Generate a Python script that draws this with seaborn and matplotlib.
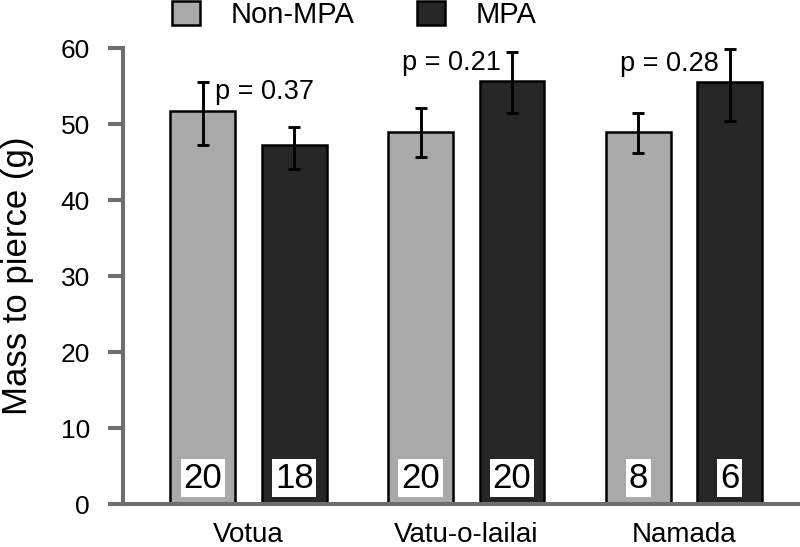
"""
Mass needed to pierce, Non-MPA vs MPA sites (bar chart with error bars)
"""

import pandas as pd
import matplotlib
matplotlib.use("Agg")
import matplotlib.pyplot as plt
from matplotlib.patches import Patch
import seaborn as sns

# Data
sites = ["Votua", "Vatu-o-lailai", "Namada"]
groups = ["Non-MPA", "MPA"]
nonmpa_mean = [51.7, 48.9, 48.9]
nonmpa_lo = [47.2, 45.7, 46.2]
nonmpa_hi = [55.5, 52.1, 51.4]
mpa_mean = [47.2, 55.7, 55.5]
mpa_lo = [44.1, 51.4, 50.4]
mpa_hi = [49.6, 59.5, 59.9]
nonmpa_n = [20, 20, 8]
mpa_n = [18, 20, 6]
p_values = ["0.37", "0.21", "0.28"]

# Style
sns.set_style("white")
plt.rcParams['font.family'] = ['Liberation Sans', 'DejaVu Sans']
plt.rcParams['text.color'] = 'black'
plt.rcParams['axes.labelcolor'] = 'black'
plt.rcParams['xtick.color'] = 'black'
plt.rcParams['ytick.color'] = 'black'

light = "#a9a9a9"
dark = "#262626"
axis_grey = "#6e6e6e"

df = pd.DataFrame({
    "site": sites * 2,
    "group": [groups[0]] * 3 + [groups[1]] * 3,
    "mass": nonmpa_mean + mpa_mean,
})

fig = plt.figure(figsize=(8, 5.47), dpi=100)
ax = fig.add_axes([0.154, 0.0786, 0.846, 0.8334])

sns.barplot(data=df, x="site", y="mass", hue="group", order=sites,
            hue_order=groups, palette=[light, dark], errorbar=None,
            width=0.84, gap=0.29, edgecolor="black", linewidth=1.8,
            legend=False, ax=ax)

# Error bars and n labels on each bar
means = [nonmpa_mean, mpa_mean]
los = [nonmpa_lo, mpa_lo]
his = [nonmpa_hi, mpa_hi]
ns = [nonmpa_n, mpa_n]
bar_conts = list(ax.containers)
centers = []
for g, cont in enumerate(bar_conts):
    xs = [b.get_x() + b.get_width() / 2 for b in cont]
    centers.append(xs)
    yerr = [[m - l for m, l in zip(means[g], los[g])],
            [h - m for m, h in zip(means[g], his[g])]]
    ax.errorbar(xs, means[g], yerr=yerr, fmt="none", ecolor="black",
                elinewidth=2.1, capsize=4.5, capthick=2.1, zorder=5)
    for x, n in zip(xs, ns[g]):
        ax.text(x, 3.4, str(n), ha="center", va="center", fontsize=25,
                bbox=dict(boxstyle="square,pad=0.08", fc="white", ec="none"))

# p-value labels next to the tallest error bar of each pair
for i, p in enumerate(p_values):
    if i == 0:
        ax.annotate(f"p = {p}", xy=(centers[0][i], his[0][i]),
                    xytext=(9, -7), textcoords="offset points",
                    ha="left", va="center", fontsize=19.5)
    else:
        ax.annotate(f"p = {p}", xy=(centers[1][i], his[1][i]),
                    xytext=(-8, -8 if i == 1 else -11),
                    textcoords="offset points",
                    ha="right", va="center", fontsize=19.5)

ax.set_ylim(0, 60)
ax.set_xlim(-0.576, 2.533)
ax.set_yticks(range(0, 61, 10))
ax.set_xlabel("")
ax.set_ylabel("Mass to pierce (g)", fontsize=25)
ax.yaxis.set_label_coords(-0.132, 0.5)

for side in ["top", "right"]:
    ax.spines[side].set_visible(False)
for side in ["left", "bottom"]:
    ax.spines[side].set_color(axis_grey)
    ax.spines[side].set_linewidth(2.9)

ax.tick_params(axis="y", length=11, width=2.9, color=axis_grey, pad=13,
               labelsize=19, direction="out", left=True)
ax.tick_params(axis="x", length=0, pad=13, labelsize=20)

handles = [Patch(facecolor=light, edgecolor="black", linewidth=1.8),
           Patch(facecolor=dark, edgecolor="black", linewidth=1.8)]
fig.legend(handles, groups, loc="upper left",
           bbox_to_anchor=(172 / 800, 1 - 1 / 547), ncol=2, frameon=False,
           fontsize=21, handlelength=0.95, handleheight=0.9,
           handletextpad=1.05, columnspacing=2.15, borderpad=0,
           borderaxespad=0)

fig.savefig("out.png", dpi=100)
